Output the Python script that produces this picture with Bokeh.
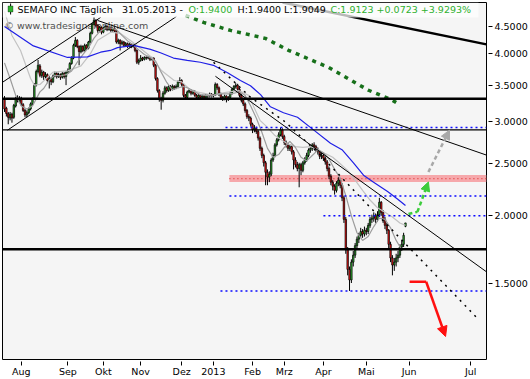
import math
from bokeh.plotting import figure
from bokeh.models import (Range1d, FixedTicker, PrintfTickFormatter, Label, Arrow,
                          NormalHead, ColumnDataSource, Span, BoxAnnotation)
from bokeh.core.properties import value
from bokeh.embed import file_html
from bokeh.resources import INLINE

# ---------------- data ----------------
opens = [3.30,3.17,3.10,3.04,3.09,3.05,3.20,3.31,3.27,3.31,3.22,3.14,3.08,3.11,3.16,3.23,3.31,3.50,3.71,3.80,
         3.65,3.70,3.63,3.66,3.57,3.60,3.55,3.64,3.68,3.63,3.66,3.62,3.68,3.63,3.70,3.73,3.84,3.93,4.15,4.24,
         4.13,4.04,4.13,4.06,4.15,4.10,4.21,4.37,4.54,4.62,4.52,4.42,4.48,4.39,4.46,4.50,4.44,4.48,4.42,4.46,
         4.41,4.21,4.24,4.18,4.21,4.15,4.18,4.13,4.17,4.13,4.15,4.06,3.86,3.89,3.93,3.91,3.94,3.93,3.94,3.91,
         3.93,3.81,3.60,3.42,3.30,3.28,3.38,3.46,3.42,3.48,3.44,3.48,3.46,3.48,3.55,3.57,3.51,3.35,3.32,3.40,
         3.42,3.38,3.41,3.35,3.32,3.35,3.32,3.34,3.32,3.35,3.34,3.37,3.34,3.35,3.51,3.46,3.37,3.32,3.30,3.34,
         3.29,3.32,3.38,3.44,3.48,3.50,3.44,3.35,3.28,3.23,3.14,3.06,3.04,2.96,2.89,2.91,2.87,2.79,2.67,2.59,
         2.51,2.41,2.36,2.39,2.54,2.59,2.71,2.77,2.83,2.89,2.81,2.74,2.71,2.67,2.69,2.63,2.54,2.49,2.45,2.49,
         2.43,2.51,2.54,2.59,2.65,2.67,2.71,2.69,2.66,2.63,2.58,2.59,2.56,2.52,2.45,2.37,2.31,2.27,2.23,2.30,
         2.33,2.28,2.16,1.97,1.73,1.59,1.52,1.64,1.69,1.76,1.81,1.84,1.87,1.85,1.88,1.87,1.92,1.97,1.98,2.00,
         1.97,2.01,2.12,2.03,1.97,1.92,1.88,1.77,1.67,1.62,1.64,1.67,1.69,1.75,1.77,1.94]
highs = [3.34,3.19,3.12,3.12,3.11,3.23,3.33,3.35,3.34,3.33,3.24,3.16,3.14,3.18,3.25,3.32,3.53,3.74,3.90,3.83,
         3.74,3.72,3.70,3.68,3.64,3.62,3.66,3.71,3.70,3.69,3.68,3.70,3.70,3.72,3.76,3.86,3.96,4.18,4.30,4.26,
         4.15,4.16,4.15,4.18,4.17,4.23,4.40,4.57,4.68,4.64,4.54,4.51,4.50,4.49,4.53,4.52,4.50,4.50,4.48,4.48,
         4.43,4.27,4.26,4.24,4.23,4.21,4.20,4.19,4.19,4.18,4.17,4.08,3.92,3.98,3.95,3.96,3.96,3.97,3.96,3.95,
         3.94,3.83,3.62,3.44,3.33,3.41,3.49,3.48,3.50,3.50,3.51,3.50,3.51,3.57,3.62,3.59,3.53,3.37,3.42,3.45,
         3.44,3.43,3.42,3.37,3.37,3.36,3.36,3.36,3.37,3.37,3.39,3.38,3.37,3.54,3.53,3.48,3.39,3.34,3.36,3.35,
         3.34,3.40,3.46,3.50,3.53,3.52,3.46,3.37,3.30,3.25,3.16,3.09,3.06,2.98,2.95,2.93,2.89,2.81,2.69,2.61,
         2.53,2.44,2.42,2.56,2.62,2.73,2.79,2.86,2.92,2.91,2.83,2.76,2.73,2.72,2.71,2.65,2.57,2.52,2.51,2.51,
         2.53,2.57,2.62,2.67,2.70,2.73,2.74,2.71,2.68,2.65,2.62,2.61,2.58,2.54,2.47,2.39,2.33,2.29,2.32,2.36,
         2.35,2.30,2.18,1.99,1.75,1.61,1.66,1.72,1.78,1.83,1.86,1.90,1.89,1.91,1.90,1.94,1.99,2.01,2.03,2.02,
         2.04,2.16,2.13,2.05,1.99,1.94,1.89,1.79,1.69,1.67,1.70,1.72,1.77,1.80,1.86,1.94]
lows = [3.12,3.06,2.96,3.01,2.98,3.03,3.18,3.25,3.24,3.20,3.12,3.05,3.05,3.09,3.14,3.21,3.29,3.48,3.68,3.62,
        3.61,3.58,3.60,3.53,3.45,3.50,3.53,3.62,3.60,3.61,3.58,3.60,3.60,3.50,3.67,3.71,3.82,3.91,4.12,4.10,
        3.81,4.01,4.03,4.04,4.07,4.08,4.19,4.35,4.52,4.48,4.38,4.39,4.35,4.37,4.43,4.41,4.42,4.39,4.40,4.38,
        4.18,4.17,4.06,4.15,4.12,4.13,4.10,4.11,4.10,4.11,4.03,3.83,3.82,3.87,3.88,3.89,3.90,3.91,3.88,3.89,
        3.78,3.57,3.39,3.26,3.15,3.25,3.36,3.39,3.40,3.41,3.42,3.43,3.44,3.46,3.53,3.48,3.32,3.29,3.30,3.38,
        3.35,3.36,3.33,3.29,3.30,3.29,3.30,3.30,3.30,3.31,3.32,3.32,3.32,3.34,3.43,3.34,3.30,3.27,3.28,3.25,
        3.27,3.30,3.36,3.42,3.45,3.41,3.32,3.25,3.20,3.11,3.03,3.00,2.93,2.85,2.86,2.84,2.76,2.64,2.56,2.47,
        2.28,2.28,2.31,2.37,2.52,2.57,2.69,2.75,2.81,2.78,2.71,2.68,2.64,2.64,2.60,2.44,2.46,2.42,2.26,2.38,
        2.41,2.49,2.52,2.57,2.62,2.64,2.66,2.63,2.60,2.55,2.55,2.53,2.49,2.42,2.34,2.28,2.23,2.19,2.21,2.27,
        2.25,2.13,1.94,1.70,1.55,1.45,1.50,1.61,1.67,1.74,1.78,1.82,1.82,1.83,1.84,1.85,1.90,1.94,1.95,1.94,
        1.95,1.99,2.00,1.94,1.89,1.85,1.74,1.64,1.55,1.58,1.61,1.64,1.67,1.72,1.75,1.9049]
closes = [3.16,3.10,3.05,3.09,3.04,3.21,3.30,3.28,3.31,3.23,3.14,3.08,3.11,3.16,3.23,3.30,3.50,3.71,3.81,3.65,
          3.70,3.63,3.66,3.57,3.60,3.55,3.64,3.68,3.63,3.66,3.62,3.68,3.63,3.70,3.73,3.84,3.93,4.15,4.24,4.13,
          4.04,4.13,4.06,4.15,4.10,4.21,4.37,4.54,4.62,4.52,4.42,4.48,4.39,4.46,4.50,4.44,4.48,4.42,4.46,4.41,
          4.21,4.24,4.18,4.21,4.15,4.18,4.13,4.17,4.13,4.15,4.06,3.86,3.89,3.93,3.91,3.94,3.93,3.94,3.91,3.93,
          3.81,3.60,3.42,3.30,3.28,3.38,3.46,3.42,3.48,3.44,3.48,3.46,3.48,3.55,3.57,3.51,3.35,3.32,3.40,3.42,
          3.38,3.41,3.35,3.32,3.35,3.32,3.34,3.32,3.35,3.34,3.37,3.34,3.35,3.51,3.46,3.37,3.32,3.30,3.34,3.29,
          3.32,3.38,3.44,3.48,3.50,3.44,3.35,3.28,3.23,3.14,3.06,3.04,2.96,2.89,2.91,2.87,2.79,2.67,2.59,2.51,
          2.41,2.36,2.39,2.54,2.59,2.71,2.77,2.83,2.89,2.81,2.74,2.71,2.67,2.69,2.63,2.54,2.49,2.45,2.49,2.43,
          2.51,2.54,2.59,2.65,2.67,2.71,2.69,2.66,2.63,2.58,2.59,2.56,2.52,2.45,2.37,2.31,2.27,2.23,2.30,2.33,
          2.28,2.16,1.97,1.73,1.59,1.52,1.64,1.69,1.76,1.81,1.84,1.87,1.85,1.88,1.87,1.92,1.97,1.98,2.00,1.97,
          2.01,2.12,2.03,1.97,1.92,1.88,1.77,1.67,1.62,1.64,1.67,1.69,1.75,1.77,1.84,1.9123]
bars = list(range(len(closes)))

month_ticks = [9, 34, 53, 73, 95, 112, 133, 150, 171, 194, 217, 250]
month_labels = ["Aug", "Sep", "Okt", "Nov", "Dez", "2013", "Feb", "Mrz", "Apr", "Mai", "Jun", "Jul"]
price_ticks = [1.5, 2.0, 2.5, 3.0, 3.5, 4.0, 4.5]

# moving averages (bar, price)
ma_blue_x = [0, 15.5, 33.8, 44.5, 51.5, 56.8, 60.6, 69.2, 78.3, 83.6, 90.6, 98, 105, 112, 119.6, 126.5,
             131.9, 137.3, 142.6, 149.6, 157.1, 165.7, 174.8, 181.2, 187.1, 192.5, 197.9, 205.4, 210.7, 215]
ma_blue_y = [4.50, 4.14, 3.94, 3.95, 4.03, 4.06, 4.11, 4.15, 4.08, 4.02, 3.93, 3.89, 3.86, 3.81, 3.69, 3.57,
             3.49, 3.36, 3.19, 3.11, 3.05, 2.89, 2.73, 2.65, 2.51, 2.38, 2.31, 2.22, 2.15, 2.09]
ma_slow_x = [0, 4, 8.6, 14, 16, 19, 26, 34, 41, 46, 50, 57, 62, 69, 79, 84, 91, 95, 100, 105, 112, 118,
             125.6, 130.9, 134, 137, 141, 145, 149, 152, 156, 160, 164, 168, 172, 176, 180, 184, 188, 192,
             196, 200, 204, 208, 212, 215]
ma_slow_y = [4.80, 4.33, 4.06, 3.60, 3.50, 3.51, 3.70, 3.72, 3.80, 4.00, 4.24, 4.39, 4.37, 4.20, 3.94, 3.73,
             3.57, 3.55, 3.42, 3.39, 3.35, 3.39, 3.42, 3.35, 3.17, 3.01, 2.92, 2.82, 2.76, 2.72, 2.69, 2.68,
             2.69, 2.66, 2.61, 2.57, 2.50, 2.43, 2.33, 2.23, 2.14, 2.07, 2.03, 1.99, 1.94, 1.92]
ma_fast_x = [0, 3, 6, 9, 12, 15, 19, 21, 24, 27, 30, 33, 36, 39, 42, 45, 48, 51, 54, 57, 60, 63, 66, 69, 72,
             75, 78, 81, 84, 87, 90, 93, 96, 99, 102, 105, 108, 111, 114, 117, 120, 123, 126, 129, 132, 135,
             138, 141, 144, 147, 150, 153, 156, 159, 162, 165, 168, 171, 174, 177, 180, 183, 186, 189, 192,
             195, 198, 201, 204, 207, 210, 213, 215]
ma_fast_y = [3.85, 3.60, 3.35, 3.20, 3.16, 3.20, 3.40, 3.45, 3.58, 3.65, 3.64, 3.66, 3.72, 3.86, 3.99, 4.11,
             4.28, 4.40, 4.47, 4.47, 4.44, 4.33, 4.23, 4.16, 4.07, 3.99, 3.94, 3.88, 3.70, 3.54, 3.43, 3.46,
             3.48, 3.45, 3.40, 3.36, 3.35, 3.34, 3.37, 3.37, 3.37, 3.38, 3.40, 3.35, 3.20, 3.04, 2.86, 2.67,
             2.57, 2.60, 2.68, 2.75, 2.68, 2.57, 2.53, 2.59, 2.65, 2.62, 2.55, 2.44, 2.35, 2.18, 2.00, 1.86,
             1.80, 1.83, 1.91, 1.98, 1.97, 1.90, 1.80, 1.73, 1.74]

# horizontal levels
solid_levels = [3.30, 1.734]
thin_level = [2.89]
dotted_level_start = [118.5, 120.6, 171.0, 115.8]
dotted_level_price = [2.92, 2.178, 2.0, 1.449]
zone_start = [120.6]
zone_low = [2.312]
zone_high = [2.382]
zone_mid = [2.345]

# trend lines (bar, price)
heavy_trend_x = [149.1, 258.4]; heavy_trend_y = [4.986, 4.167]
long_trend_x = [49.9, 258.4];   long_trend_y = [4.617, 2.594]
steep_trend_x = [113.1, 258.4]; steep_trend_y = [3.635, 1.574]
chan_up_x = [-1.07, 51.5];      chan_up_y = [3.543, 4.676]
chan_lo_x = [1.6, 92.2];        chan_lo_y = [2.886, 4.696]
dot_trend_x = [112.1, 131.9, 150.7, 169.4, 187.1, 216.6, 254.2]
dot_trend_y = [3.859, 3.323, 2.987, 2.594, 2.234, 1.751, 1.283]
green_dots_x = [97.1, 101.3, 106.7, 121.2, 139.9, 152.3, 173.7, 195.2, 208.0, 212.3]
green_dots_y = [4.716, 4.656, 4.578, 4.424, 4.275, 4.062, 3.777, 3.424, 3.281, 3.212]
green_arrow_x = [216.6, 221.4, 227.3]; green_arrow_y = [2.016, 2.034, 2.312]
gray_arrow_x = [227.3, 238.6];         gray_arrow_y = [2.413, 2.886]
red_arrow_x = [217.2, 226.1, 236.5];   red_arrow_y = [1.508, 1.508, 1.193]

# ---------------- layout helpers ----------------
PX_PER_BAR = 1.865
FIRST_BAR_PX = 4.0
def bar_at(px):
    return (px - FIRST_BAR_PX) / PX_PER_BAR
def price_at(py):
    return 4.5 * math.exp(-(py - 26.0) / 234.2)

FONT = "DejaVu Sans"
UP = "#2fb12f"
DOWN = "#f01414"

x0, x1 = bar_at(2), bar_at(486)
p = figure(width=530, height=379, x_range=Range1d(x0, x1),
           y_range=Range1d(price_at(360), price_at(2)), y_axis_type="log",
           y_axis_location="right", output_backend="svg", toolbar_location=None,
           min_border_left=2, min_border_right=44, min_border_top=2, min_border_bottom=19)
p.background_fill_color = "#f5f5f5"
p.border_fill_color = "white"
p.outline_line_color = "black"
p.outline_line_width = 1
p.grid.visible = False

p.yaxis.ticker = FixedTicker(ticks=price_ticks)
p.yaxis.formatter = PrintfTickFormatter(format="%.4f")
p.xaxis.ticker = FixedTicker(ticks=month_ticks)
p.xaxis.major_label_overrides = dict(zip(month_ticks, month_labels))
for ax in (p.xaxis[0], p.yaxis[0]):
    ax.axis_line_color = None
    ax.minor_tick_line_color = None
    ax.major_tick_line_color = "black"
    ax.major_tick_in = -2
    ax.major_label_text_font = FONT
    ax.major_label_text_font_size = "9.5px"
    ax.major_label_text_color = "black"
p.xaxis.major_tick_out = 6
p.xaxis.major_label_standoff = 0
p.xaxis.major_label_text_align = "left"
p.yaxis.major_tick_out = 6
p.yaxis.major_label_standoff = 2

# watermark (under the price)
p.text(x=[bar_at(4)], y=[price_at(25.5)], text=["\u00a9 www.tradesignalonline.com"],
       text_font=value(FONT), text_font_size="9.5px", text_color="#505050",
       text_baseline="middle", text_align="left")

# zone
p.quad(left=zone_start, right=[x1], bottom=zone_low, top=zone_high,
       fill_color="#f6a8ab", line_color=None)
p.segment(x0=zone_start, x1=[x1], y0=zone_mid, y1=zone_mid, line_color="#e03c3c",
          line_width=1.3, line_dash="1 3")

# candles
colors = [UP if closes[i] >= (closes[i - 1] if i else opens[i]) else DOWN for i in bars]
src = ColumnDataSource(dict(x=bars, o=opens, h=highs, l=lows, c=closes,
                            top=[max(a, b) for a, b in zip(opens, closes)],
                            bottom=[min(a, b) for a, b in zip(opens, closes)], color=colors))
p.segment(x0="x", x1="x", y0="l", y1="h", source=src, line_color="black", line_width=1)
p.vbar(x="x", top="top", bottom="bottom", width=0.8, fill_color="color",
       line_color="black", line_width=0.7, source=src)

# moving averages
p.line(ma_slow_x, ma_slow_y, line_color="#c2c2c2", line_width=1.2)
p.line(ma_fast_x, ma_fast_y, line_color="#9c9c9c", line_width=1.2)
p.line(ma_blue_x, ma_blue_y, line_color="#1f1fe6", line_width=1.2)

# dotted levels
p.segment(x0=dotted_level_start, x1=[x1] * 4, y0=dotted_level_price, y1=dotted_level_price,
          line_color="#0a0aff", line_width=1.5, line_dash="2 3")

# trend lines
p.line(heavy_trend_x, heavy_trend_y, line_color="black", line_width=2.5)
p.line(long_trend_x, long_trend_y, line_color="black", line_width=1)
p.line(steep_trend_x, steep_trend_y, line_color="black", line_width=1)
p.line(chan_up_x, chan_up_y, line_color="black", line_width=1)
p.line(chan_lo_x, chan_lo_y, line_color="black", line_width=1)
p.line(dot_trend_x, dot_trend_y, line_color="black", line_width=1.5, line_dash="2 5")
p.line(green_dots_x, green_dots_y, line_color="#17701a", line_width=3.5, line_dash="4 5")

# horizontal solid levels
for lv in solid_levels:
    p.add_layout(Span(location=lv, dimension="width", line_color="black", line_width=2.5))
for lv in thin_level:
    p.add_layout(Span(location=lv, dimension="width", line_color="black", line_width=1.2))

# arrows
p.line(green_arrow_x[:2], green_arrow_y[:2], line_color="#3ccc3c", line_width=2.5, line_dash="4 3")
p.add_layout(Arrow(end=NormalHead(size=9, fill_color="#3ccc3c", line_color="#3ccc3c"),
                   x_start=green_arrow_x[1], y_start=green_arrow_y[1],
                   x_end=green_arrow_x[2], y_end=green_arrow_y[2],
                   line_color="#3ccc3c", line_width=2.5, line_dash="4 3"))
p.add_layout(Arrow(end=NormalHead(size=9, fill_color="#a8a8a8", line_color="#a8a8a8"),
                   x_start=gray_arrow_x[0], y_start=gray_arrow_y[0],
                   x_end=gray_arrow_x[1], y_end=gray_arrow_y[1],
                   line_color="#a8a8a8", line_width=2.5, line_dash="4 3"))
p.line(red_arrow_x[:2], red_arrow_y[:2], line_color="#ff1010", line_width=2.5)
p.add_layout(Arrow(end=NormalHead(size=10, fill_color="#ff1010", line_color="#ff1010"),
                   x_start=red_arrow_x[1], y_start=red_arrow_y[1],
                   x_end=red_arrow_x[2], y_end=red_arrow_y[2],
                   line_color="#ff1010", line_width=2.5))

# title box
p.add_layout(BoxAnnotation(left=x0, right=bar_at(478), top=price_at(2), bottom=price_at(17),
                           fill_color="white", fill_alpha=0.72, line_color=None, level="annotation"))
p.add_layout(BoxAnnotation(left=bar_at(9.6), right=bar_at(10.6), top=price_at(3), bottom=price_at(14),
                           fill_color="black", fill_alpha=1, line_color=None))
p.add_layout(BoxAnnotation(left=bar_at(7.5), right=bar_at(12.5), top=price_at(5.5), bottom=price_at(11.5),
                           fill_color=UP, fill_alpha=1, line_color="black", line_width=1))

title_parts = [("SEMAFO INC T\u00e4glich", 17, "black"),
               ("31.05.2013 -", 121.5, "black"),
               ("O:1.9400", 188, UP),
               ("H:1.9400 L:1.9049", 237, "black"),
               ("C:1.9123 +0.0723 +3.9293%", 330, UP)]
for txt, px, col in title_parts:
    p.add_layout(Label(x=bar_at(px), y=price_at(9.5), text=txt, text_font=FONT,
                       text_font_size="9.5px", text_color=col, text_baseline="middle"))
p.add_layout(Label(x=bar_at(490), y=price_at(9.5), text="$", text_font=FONT,
                   text_font_size="9.5px", text_color="black", text_baseline="middle"))

open("out.html", "w").write(file_html(p, INLINE))
